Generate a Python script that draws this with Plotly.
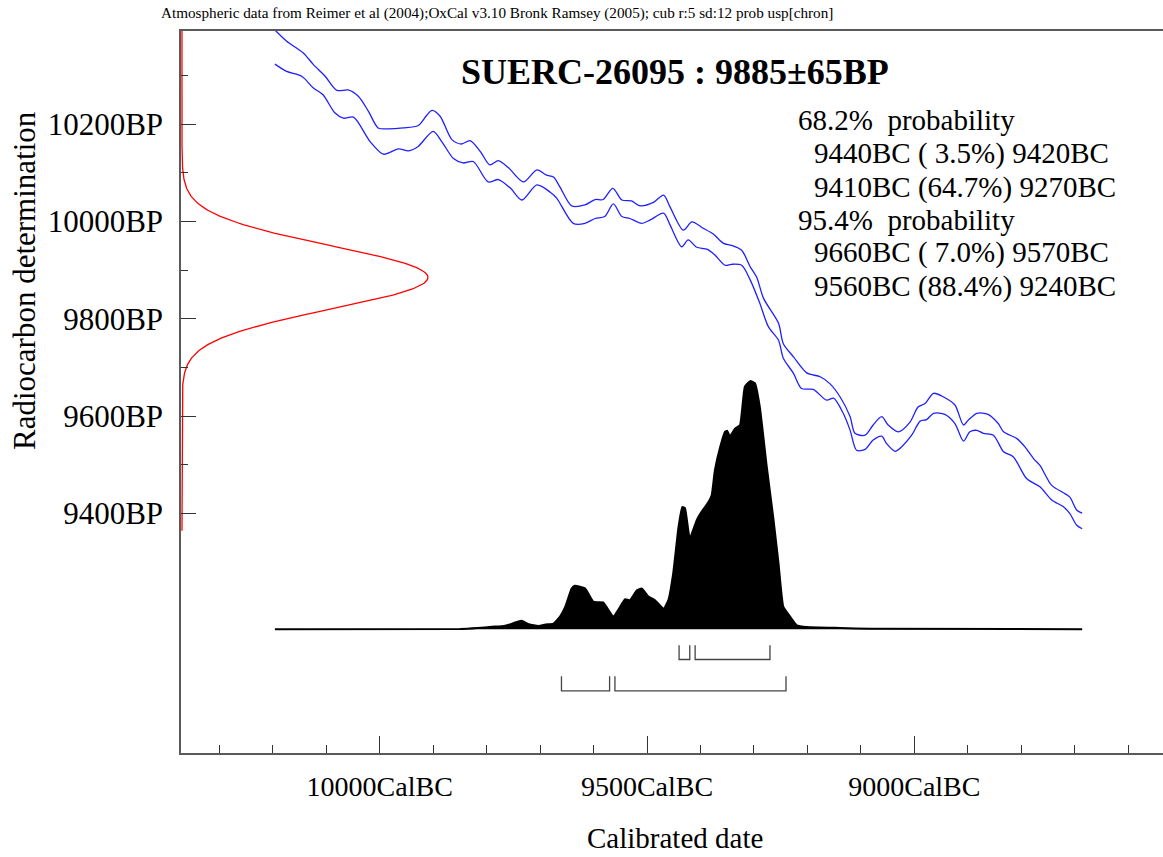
import numpy as np
import plotly.graph_objects as go

# ---------------- data ----------------
header_text = "Atmospheric data from Reimer et al (2004);OxCal v3.10 Bronk Ramsey (2005); cub r:5 sd:12 prob usp[chron]"
sample_title = "SUERC-26095 : 9885±65BP"
c14_age = 9885
c14_err = 65

x_tick_vals = [10000, 9500, 9000]
x_tick_text = ["10000CalBC", "9500CalBC", "9000CalBC"]
x_minor_vals = [10300, 10200, 10100, 9900, 9800, 9700, 9600, 9400, 9300, 9200, 9100,
                8900, 8800, 8700, 8600]
y_tick_vals = [9400, 9600, 9800, 10000, 10200]
y_tick_text = ["9400BP", "9600BP", "9800BP", "10000BP", "10200BP"]
y_minor_vals = [9500, 9700, 9900, 10100, 10300]

# calibration curve (+1 sigma / -1 sigma envelope), cal BC vs BP
upper_cal = [10196, 10174, 10143, 10124, 10102, 10080, 10059, 10040, 10021, 10003,
             9987, 9956, 9928, 9912, 9902, 9887, 9865, 9847, 9831, 9812,
             9794, 9778, 9759, 9731, 9706, 9688, 9675, 9663, 9641, 9616,
             9597, 9582, 9564, 9547, 9529, 9513, 9488, 9469, 9457, 9432,
             9416, 9395, 9376, 9357, 9342, 9323, 9307, 9295, 9282, 9254,
             9245, 9226, 9201, 9176, 9158, 9139, 9120, 9111, 9092, 9077,
             9061, 9049, 9030, 9008, 8993, 8980, 8964, 8946, 8924, 8908,
             8899, 8883, 8862, 8843, 8833, 8808, 8793, 8777, 8765, 8743,
             8721, 8709, 8696, 8686]
upper_bp = [10393, 10370, 10346, 10322, 10298, 10269, 10270, 10257, 10226, 10192,
            10190, 10192, 10197, 10218, 10228, 10216, 10168, 10159, 10166, 10144,
            10116, 10125, 10110, 10081, 10106, 10095, 10091, 10071, 10032, 10034,
            10045, 10045, 10068, 10044, 10042, 10032, 10039, 10054, 10030, 9982,
            9999, 9986, 9974, 9955, 9951, 9941, 9907, 9886, 9842, 9791,
            9749, 9722, 9689, 9681, 9667, 9640, 9599, 9565, 9561, 9582,
            9599, 9582, 9568, 9588, 9619, 9626, 9647, 9640, 9623, 9582,
            9592, 9606, 9604, 9585, 9568, 9554, 9537, 9513, 9499, 9458,
            9443, 9434, 9407, 9401]
lower_cal = [10196, 10174, 10146, 10124, 10106, 10084, 10068, 10049, 10018, 9993,
             9965, 9946, 9928, 9900, 9884, 9862, 9844, 9825, 9797, 9778,
             9756, 9734, 9706, 9681, 9669, 9638, 9616, 9597, 9579, 9563,
             9547, 9532, 9510, 9494, 9469, 9457, 9435, 9423, 9407, 9388,
             9373, 9354, 9342, 9323, 9307, 9289, 9273, 9254, 9245, 9226,
             9211, 9189, 9164, 9151, 9133, 9120, 9108, 9092, 9077, 9061,
             9052, 9036, 9024, 9005, 8989, 8977, 8964, 8943, 8924, 8908,
             8896, 8883, 8871, 8852, 8833, 8815, 8790, 8765, 8743, 8721,
             8709, 8696, 8686]
lower_bp = [10323, 10308, 10298, 10274, 10260, 10223, 10212, 10214, 10164, 10138,
            10149, 10145, 10154, 10185, 10164, 10129, 10120, 10123, 10081, 10086,
            10069, 10044, 10075, 10060, 10048, 9996, 9996, 10006, 10010, 10036,
            10010, 10006, 9996, 10003, 10017, 9993, 9948, 9962, 9947, 9943,
            9931, 9910, 9912, 9910, 9880, 9832, 9784, 9756, 9719, 9688,
            9657, 9655, 9633, 9637, 9606, 9571, 9530, 9532, 9551, 9559,
            9544, 9528, 9537, 9561, 9590, 9593, 9606, 9604, 9585, 9549,
            9568, 9571, 9565, 9561, 9527, 9517, 9472, 9455, 9428, 9414,
            9400, 9376, 9369]

# calibrated probability distribution (relative, peak = 1)
prob_cal = [10196, 9850, 9817, 9790, 9767, 9749, 9735, 9721, 9703, 9690,
            9675, 9663, 9653, 9641, 9635, 9616, 9600, 9582, 9572, 9563,
            9554, 9541, 9532, 9519, 9510, 9498, 9485, 9469, 9460, 9451,
            9441, 9434, 9429, 9420, 9407, 9398, 9385, 9379, 9373, 9363,
            9354, 9350, 9345, 9335, 9326, 9317, 9307, 9298, 9289, 9276,
            9264, 9254, 9245, 9232, 9220, 9201, 9139, 9083, 8686]
prob_density = [0, 0.001, 0.005, 0.010, 0.013, 0.025, 0.034, 0.020, 0.013, 0.019,
                0.023, 0.050, 0.090, 0.164, 0.175, 0.165, 0.110, 0.108, 0.077, 0.050,
                0.077, 0.121, 0.117, 0.157, 0.164, 0.133, 0.117, 0.083, 0.117, 0.225,
                0.413, 0.493, 0.488, 0.366, 0.440, 0.473, 0.513, 0.540, 0.641, 0.735,
                0.796, 0.800, 0.778, 0.809, 0.823, 0.977, 1.000, 0.991, 0.896, 0.654,
                0.453, 0.265, 0.090, 0.050, 0.016, 0.009, 0.005, 0.002, 0]

ranges_68 = [(9440, 9420), (9410, 9270)]
ranges_95 = [(9660, 9570), (9560, 9240)]
prob_lines = [
    ("68.2%\u00a0 probability", 0),
    ("9440BC (\u00a03.5%) 9420BC", 1),
    ("9410BC (64.7%) 9270BC", 1),
    ("95.4%\u00a0 probability", 0),
    ("9660BC (\u00a07.0%) 9570BC", 1),
    ("9560BC (88.4%) 9240BC", 1),
]

# ---------------- figure ----------------
FONT = "Liberation Serif"
W, H = 1163, 857
ML, MR, MT, MB = 181, 0, 31, 104
PW, PH = W - ML - MR, H - MT - MB

def px_to_paper_x(px):
    return (px - ML) / PW

def px_to_paper_y(py):
    return (H - MB - py) / PH

fig = go.Figure()

# measurement distribution (red) on the BP axis
bp_grid = np.linspace(c14_age - 8 * c14_err, c14_age + 8 * c14_err, 600)
gauss = np.exp(-0.5 * ((bp_grid - c14_age) / c14_err) ** 2)
fig.add_trace(go.Scatter(x=gauss, y=bp_grid, xaxis="x2", yaxis="y", mode="lines",
                         line=dict(color="#ff0000", width=1.3), hoverinfo="skip",
                         showlegend=False))

# calibration curve
fig.add_trace(go.Scatter(x=upper_cal, y=upper_bp, mode="lines",
                         line=dict(color="#2020ff", width=1.3, shape="spline", smoothing=0.8),
                         showlegend=False))
fig.add_trace(go.Scatter(x=lower_cal, y=lower_bp, mode="lines",
                         line=dict(color="#2020ff", width=1.3, shape="spline", smoothing=0.8),
                         showlegend=False))

# calibrated distribution
fig.add_trace(go.Scatter(x=prob_cal, y=prob_density, xaxis="x", yaxis="y2", mode="lines",
                         fill="tozeroy", fillcolor="black",
                         line=dict(color="black", width=2, shape="spline", smoothing=0.4),
                         showlegend=False))

# range brackets
def bracket_xy(ranges, top, bottom):
    xs, ys = [], []
    for a, b in ranges:
        xs += [a, a, b, b, None]
        ys += [top, bottom, bottom, top, None]
    return xs, ys

bx1, by1 = bracket_xy(ranges_68, -0.0645, -0.122)
bx2, by2 = bracket_xy(ranges_95, -0.1895, -0.2488)
fig.add_trace(go.Scatter(x=bx1 + bx2, y=by1 + by2, xaxis="x", yaxis="y2", mode="lines",
                         line=dict(color="#444444", width=1.3), showlegend=False))

axis_line = dict(showline=True, linecolor="#5a5a5a", linewidth=1.5, showgrid=False,
                 zeroline=False)

fig.update_layout(
    width=W, height=H,
    margin=dict(l=ML, r=MR, t=MT, b=MB, pad=0),
    paper_bgcolor="white", plot_bgcolor="white",
    font=dict(family=FONT, color="black"),
    xaxis=dict(range=[10371.7, 8534.8], tickmode="array", tickvals=x_tick_vals,
               ticktext=x_tick_text, ticks="inside", ticklen=17, tickwidth=1.3,
               tickcolor="#333", tickfont=dict(size=28, family=FONT),
               ticklabelstandoff=8, mirror=True,
               minor=dict(tickmode="array", tickvals=x_minor_vals, ticks="inside",
                          ticklen=8, tickwidth=1.2, tickcolor="#333"),
               **axis_line),
    yaxis=dict(range=[8908.5, 10391], tickmode="array", tickvals=y_tick_vals,
               ticktext=y_tick_text, ticks="inside", ticklen=15, tickwidth=1.3,
               tickcolor="#333", tickfont=dict(size=31, family=FONT),
               ticklabelstandoff=10,
               minor=dict(tickmode="array", tickvals=y_minor_vals, ticks="inside",
                          ticklen=7, tickwidth=1.2, tickcolor="#333"),
               **axis_line),
    xaxis2=dict(overlaying="x", range=[-0.004, PW / 246 - 0.004], visible=False),
    yaxis2=dict(overlaying="y", range=[-0.4988, 2.411], visible=False),
    showlegend=False,
)

ann = []
ann.append(dict(text=header_text, x=px_to_paper_x(497), y=px_to_paper_y(13),
                xref="paper", yref="paper", showarrow=False,
                font=dict(size=15.2, family=FONT), xanchor="center", yanchor="middle"))
ann.append(dict(text="<b>" + sample_title + "</b>", x=px_to_paper_x(675), y=px_to_paper_y(72),
                xref="paper", yref="paper", showarrow=False,
                font=dict(size=36, family=FONT), xanchor="center", yanchor="middle"))
line_y = [120, 153.5, 187, 219.5, 253, 286]
for (txt, indent), yy in zip(prob_lines, line_y):
    ann.append(dict(text=txt, x=px_to_paper_x(796 if indent == 0 else 812),
                    y=px_to_paper_y(yy), xref="paper", yref="paper", showarrow=False,
                    font=dict(size=29, family=FONT), xanchor="left", yanchor="middle"))
ann.append(dict(text="Calibrated date", x=px_to_paper_x(675), y=px_to_paper_y(838),
                xref="paper", yref="paper", showarrow=False,
                font=dict(size=29, family=FONT), xanchor="center", yanchor="middle"))
ann.append(dict(text="Radiocarbon determination", x=px_to_paper_x(24), y=px_to_paper_y(281),
                xref="paper", yref="paper", showarrow=False, textangle=-90,
                font=dict(size=31, family=FONT), xanchor="center", yanchor="middle"))
fig.update_layout(annotations=ann)

fig.write_html("out.html", config={"displayModeBar": False},
               post_script="document.body.style.margin='0px';")
